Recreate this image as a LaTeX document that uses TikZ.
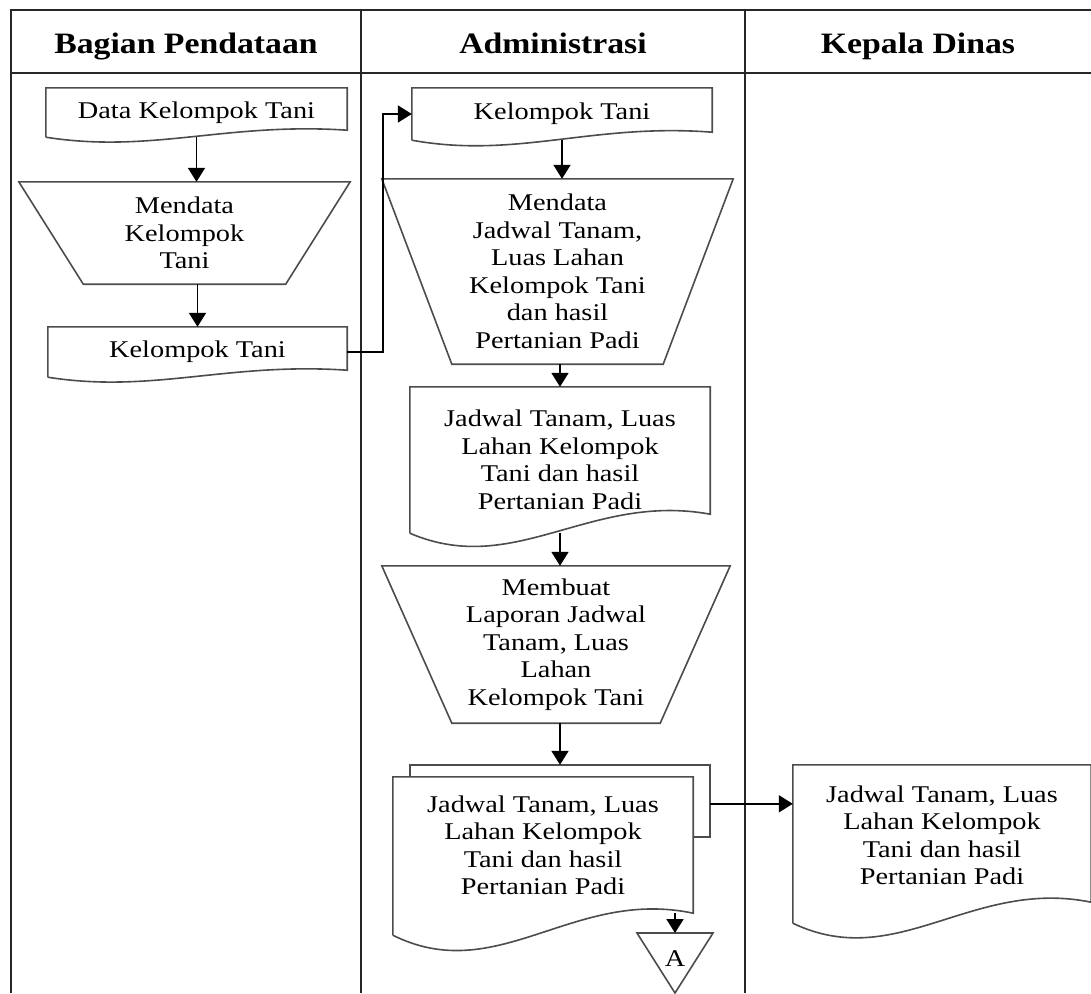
\documentclass[tikz,border=0pt]{standalone}
\usepackage{fontspec}
\setmainfont{Liberation Serif}[FakeStretch=1.18]
\newfontfamily\headfont{Liberation Serif}[FakeStretch=1.14]
\usetikzlibrary{calc,arrows.meta}

\tikzset{
	lane/.style={line width=2pt, black!85},
	shp/.style={line width=1.6pt, black!70},
	flow/.style={line width=1.8pt, -{Triangle[length=14pt,width=17pt]}},
	box/.style={inner sep=0pt, align=center, font=\fontsize{24}{27.5}\selectfont},
	head/.style={anchor=base, font=\headfont\bfseries\fontsize{29.6}{34}\selectfont}
}
% document outline round a node: #1 node, #2 width, #3 wave
\newcommand{\docbox}[3]{%
	\draw[shp] (#1.south west) -- (#1.north west) -- (#1.north east) -- ($(#1.south east)+(0,-#3)$)
	.. controls ($(#1.south west)+(0.6*#2,-2.16*#3)$) and ($(#1.south west)+(0.35*#2,2.37*#3)$) .. (#1.south west);}
% manual operation outline: #1 node, #2 inset
\newcommand{\manop}[2]{%
	\draw[shp] (#1.north west) -- (#1.north east) -- ($(#1.south east)+(-#2,0)$) -- ($(#1.south west)+(#2,0)$) -- cycle;}

\begin{document}
\begin{tikzpicture}[x=1pt,y=-1pt]
	\useasboundingbox (0,0) rectangle (1091,993);
	% lanes
	\draw[lane] (11,993) -- (11,10) -- (1091,10);
	\draw[lane] (11,73) -- (1091,73);
	\draw[lane] (361,10) -- (361,993);
	\draw[lane] (745,10) -- (745,993);
	\node[head] (hPend) at (186,53) {Bagian Pendataan};
	\node[head] (hAdm) at (553,53) {Administrasi};
	\node[head] (hKep) at (918,53) {Kepala Dinas};
	
	% bagian pendataan
	\node[box, minimum width=301pt, minimum height=49pt] (dataKT) at (196.5,112.5) {Data Kelompok Tani};
	\node[box, minimum width=331pt, minimum height=102pt] (mendataKT) at (184.5,233) {Mendata\\Kelompok\\Tani};
	\node[box, minimum width=299pt, minimum height=50pt] (kt1) at (197.5,352) {Kelompok Tani};
	\docbox{dataKT}{301}{7}
	\manop{mendataKT}{64.5}
	\docbox{kt1}{299}{7}
	\draw[flow] (dataKT.south) -- (dataKT.south |- mendataKT.north);
	\draw[flow] (kt1.north |- mendataKT.south) -- (kt1.north);
	
	% administrasi
	\node[box, minimum width=300pt, minimum height=52pt] (kt2) at (562,114) {Kelompok Tani};
	\node[box, minimum width=351pt, minimum height=185pt] (mendataJT) at (557.5,271.5) {Mendata\\Jadwal Tanam,\\Luas Lahan\\Kelompok Tani\\dan hasil\\Pertanian Padi};
	\node[box, minimum width=300pt, minimum height=146pt] (jadwal) at (560,460) {Jadwal Tanam, Luas\\Lahan Kelompok\\Tani dan hasil\\Pertanian Padi};
	\node[box, minimum width=348pt, minimum height=157pt] (laporan) at (556,644.5) {Membuat\\Laporan Jadwal\\Tanam, Luas\\Lahan\\Kelompok Tani};
	\node[box, minimum width=300pt, minimum height=158pt] (rekap) at (543,856) {Jadwal Tanam, Luas\\Lahan Kelompok\\Tani dan hasil\\Pertanian Padi\\[-6pt]\mbox{}};
	\docbox{kt2}{300}{8}
	\manop{mendataJT}{70}
	\docbox{jadwal}{300}{19}
	\manop{laporan}{70}
	\draw[shp] ($(rekap.north west)+(17,0)$) -- ++(0,-12) -| ($(rekap.north east)+(17,60)$) -- ($(rekap.north east)+(0,60)$);
	\docbox{rekap}{300}{22}
	\coordinate (rekapTop) at ($(rekap.north)+(17,-12)$);
	\coordinate (rekapSide) at ($(rekap.north east)+(17,27)$);
	\coordinate (rekapWave) at ($(rekap.south east)+(0,-22)$);
	\coordinate (offA) at (675,933);
	\node[box] (lblA) at (675,959) {A};
	\draw[shp] ($(offA)+(-38,0)$) -- ($(offA)+(38,0)$) -- ($(offA)+(0,60)$) -- cycle;
	
	\draw[flow] (kt1.east) -- ++(36,0) |- (kt2.west);
	\draw[flow] (kt2.south) -- (kt2.south |- mendataJT.north);
	\draw[flow] (jadwal.north |- mendataJT.south) -- (jadwal.north);
	\draw[flow] (jadwal.south) -- (jadwal.south |- laporan.north);
	\draw[flow] (rekapTop |- laporan.south) -- (rekapTop);
	\draw[flow] (offA |- rekapWave) -- (offA);
	
	% kepala dinas
	\node[box, minimum width=298pt, minimum height=158pt] (laporanKD) at (942,844) {Jadwal Tanam, Luas\\Lahan Kelompok\\Tani dan hasil\\Pertanian Padi\\[-10pt]\mbox{}};
	\docbox{laporanKD}{298}{21}
	\draw[flow] (rekapSide) -- (rekapSide -| laporanKD.west);
\end{tikzpicture}
\end{document}
